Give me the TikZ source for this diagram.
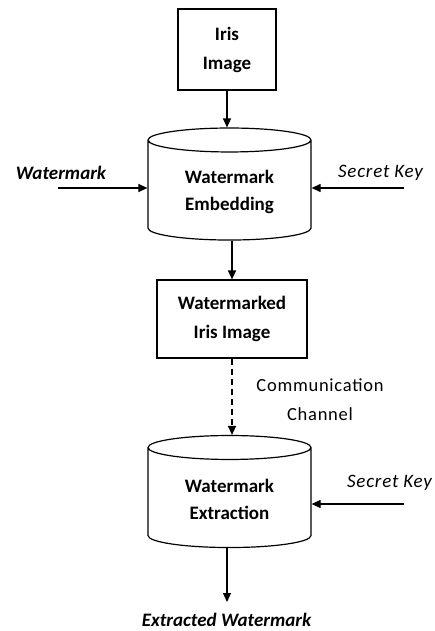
\documentclass[tikz,border=0pt]{standalone}
\usepackage{fontspec}
\setmainfont{Carlito}
\usetikzlibrary{positioning,shapes.geometric,arrows.meta}

\begin{document}
\begin{tikzpicture}[x=1pt, y=-1pt, line width=1.2pt,
            >={Triangle[length=9pt,width=8pt]},
            block/.style={draw, rectangle, align=center, font=\bfseries\fontsize{19}{29}\selectfont},
            stage/.style={draw, cylinder, shape border rotate=90, aspect=0.25,
              minimum width=163pt, minimum height=112pt, align=center,
              font=\bfseries\fontsize{19}{27}\selectfont},
            lbl/.style={font=\itshape\fontsize{19}{23}\selectfont\addfontfeatures{LetterSpace=4}},
            boldlbl/.style={font=\bfseries\itshape\fontsize{19}{23}\selectfont}
        ]
          \useasboundingbox (0,0) rectangle (435,631);
          \node[block, minimum width=98pt, minimum height=81pt] (iris) at (227,49.5) {Iris\\Image};
          \node[stage] (embed) at (229.5,192) {Watermark\\Embedding};
          \node[block, minimum width=150pt, minimum height=78pt] (wmkd) at (232,319) {Watermarked\\Iris Image};
          \node[stage] (extr) at (229.5,499.5) {Watermark\\Extraction};
          \node[boldlbl] (wm) at (61,173) {Watermark};
          \node[lbl] (key1) at (380.5,173) {Secret Key};
          \node[lbl] (key2) at (389.5,483) {Secret Key};
          \node[align=center, font=\fontsize{18.5}{29}\selectfont\addfontfeatures{LetterSpace=4}] (chan) at (320,400) {Communication\\Channel};
          \node[boldlbl] (out) at (226.5,620) {Extracted Watermark};
          \coordinate (wmin) at (58,188);
          \coordinate (key1in) at (404,188);
          \coordinate (key2in) at (404,504);
          \coordinate (outend) at (227,602);
          \draw[->] (iris.south) -- (iris.south |- embed.north);
          \draw[->] (wmin) -- (wmin -| embed.west);
          \draw[->] (key1in) -- (key1in -| embed.east);
          \draw[->] (wmkd.north |- embed.south) -- (wmkd.north);
          \draw[->, dash pattern=on 6pt off 4pt] (wmkd.south) -- (wmkd.south |- extr.north);
          \draw[->] (key2in) -- (key2in -| extr.east);
          \draw[->] (outend |- extr.south) -- (outend);
\end{tikzpicture}
\end{document}
